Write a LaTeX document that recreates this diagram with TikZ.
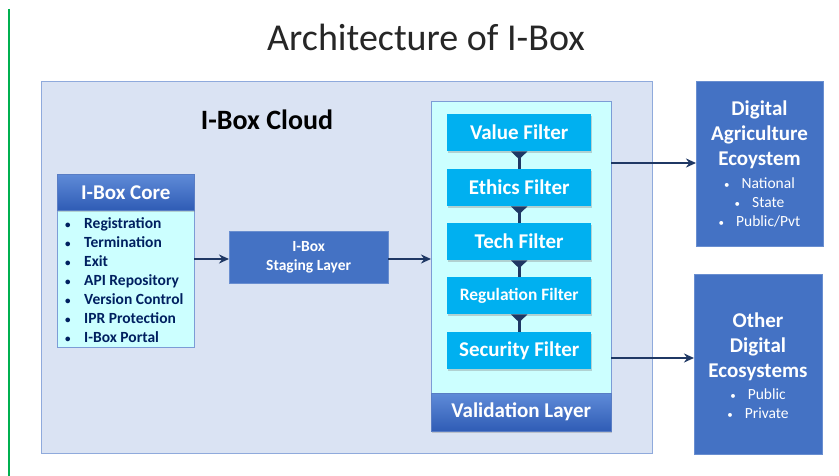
\documentclass[tikz,border=0pt]{standalone}
\usepackage{fontspec}
\setmainfont{Carlito}
\usetikzlibrary{arrows.meta,shadows}
\definecolor{cloudfill}{HTML}{DAE3F3}
\definecolor{clouddraw}{HTML}{8FAADC}
\definecolor{cyanfill}{HTML}{CCFFFF}
\definecolor{boxblue}{HTML}{4472C4}
\definecolor{filterblue}{HTML}{00B0F0}
\definecolor{navy}{HTML}{1F3864}
\definecolor{darktext}{HTML}{002060}
\definecolor{hdtop}{HTML}{5F8BD8}
\definecolor{hdbot}{HTML}{2F5CB5}
\newcommand{\smbul}{{\fontsize{11}{11}\selectfont •}}
\tikzset{
  box/.style={anchor=north west, inner sep=0pt, align=center},
  filterbox/.style={box, fill=filterblue, text=white, font=\bfseries\fontsize{21}{23}\selectfont,
     minimum width=144pt, minimum height=37pt, drop shadow={shadow xshift=1pt, shadow yshift=-1.5pt, opacity=0.35}},
  header/.style={box, top color=hdtop, bottom color=hdbot, text=white, draw=hdbot!80,
     drop shadow={shadow xshift=1pt, shadow yshift=-1.5pt, opacity=0.35}},
  bluebox/.style={box, fill=boxblue, draw=boxblue!80!white, text=white},
  ecohead/.style={anchor=center, inner sep=0pt, text=white, align=center, font=\bfseries\fontsize{21}{25}\selectfont},
  ecolist/.style={anchor=center, inner sep=0pt, text=white, align=center, font=\fontsize{15.5}{19}\selectfont},
  flow/.style={draw=navy, line width=2.4pt, -{Stealth[length=10pt,width=9pt]}},
  link/.style={draw=navy, line width=2.6pt, {Triangle[reversed,length=8pt,width=16pt]}-},
}
\begin{document}
\begin{tikzpicture}[x=1pt,y=-1pt]
\useasboundingbox (0,0) rectangle (839,476);
\fill[white] (0,0) rectangle (839,476);
% green margin line
\draw[draw={rgb,255:red,0;green,176;blue,80}, line width=1.2pt] (9,9) -- (9,476);
% title
\node[anchor=base, font=\fontsize{38}{42}\selectfont, text=black!85] (title) at (426,51) {Architecture of I-Box};
% cloud
\node[box, fill=cloudfill, draw=clouddraw, line width=0.8pt, minimum width=611pt, minimum height=372pt] (cloud) at (41,81) {};
\node[anchor=base, font=\bfseries\fontsize{28}{30}\selectfont] (cloudlbl) at (267,130) {I-Box Cloud};
% core
\node[box, fill=cyanfill, draw=boxblue!70, minimum width=137pt, minimum height=137pt] (corebody) at (57,210) {};
\node[header, minimum width=137pt, minimum height=36pt, font=\bfseries\fontsize{21}{23}\selectfont] (corehead) at (57,174) {I-Box Core};
\node[anchor=west, inner sep=0pt, text=darktext, font=\bfseries\fontsize{15.5}{19}\selectfont, align=left] (coreitems) at (65,280) {%
\makebox[19pt][l]{\smbul}Registration\\
\makebox[19pt][l]{\smbul}Termination\\
\makebox[19pt][l]{\smbul}Exit\\
\makebox[19pt][l]{\smbul}API Repository\\
\makebox[19pt][l]{\smbul}Version Control\\
\makebox[19pt][l]{\smbul}IPR Protection\\
\makebox[19pt][l]{\smbul}I-Box Portal};
% staging
\node[bluebox, minimum width=159pt, minimum height=52pt, font=\bfseries\fontsize{15.5}{19}\selectfont] (staging) at (229,231) {I-Box\\Staging Layer};
% validation
\node[box, fill=cyanfill, draw=boxblue!70, minimum width=180pt, minimum height=294pt] (valbody) at (431,101) {};
\node[header, minimum width=180pt, minimum height=38pt, font=\bfseries\fontsize{21}{23}\selectfont] (valhead) at (431,393) {Validation Layer};
\node[filterbox] (f1) at (447,114) {Value Filter};
\node[filterbox] (f2) at (447,169) {Ethics Filter};
\node[filterbox] (f3) at (447,223) {Tech Filter};
\node[filterbox, font=\bfseries\fontsize{17.4}{19}\selectfont] (f4) at (447,277) {Regulation Filter};
\node[filterbox] (f5) at (447,332) {Security Filter};
\draw[link] (f1.south) -- (f2.north);
\draw[link] (f2.south) -- (f3.north);
\draw[link] (f3.south) -- (f4.north);
\draw[link] (f4.south) -- (f5.north);
% ecosystems
\node[bluebox, minimum width=127pt, minimum height=165pt] (agri) at (696,81) {};
\node[ecohead] (agrihead) at (759.5,135) {Digital\\Agriculture\\Ecoystem};
\node[ecolist] (agrilist) at (759.5,202) {\smbul\hspace{12pt}National\\ \smbul\hspace{12pt}State\\ \smbul\hspace{12pt}Public/Pvt};
\node[bluebox, minimum width=128pt, minimum height=180pt] (other) at (694,274) {};
\node[ecohead] (otherhead) at (758,347) {Other\\Digital\\Ecosystems};
\node[ecolist] (otherlist) at (758,403.5) {\smbul\hspace{12pt}Public\\ \smbul\hspace{12pt}Private};
% flows
\coordinate (c1) at (194,259);
\draw[flow] (c1) -- (c1 -| staging.west);
\coordinate (c2) at (388,259);
\draw[flow] (c2) -- (c2 -| valbody.west);
\coordinate (c3) at (611,163);
\draw[flow] (c3) -- (c3 -| agri.west);
\coordinate (c4) at (611,358);
\draw[flow] (c4) -- (c4 -| other.west);
\end{tikzpicture}
\end{document}
